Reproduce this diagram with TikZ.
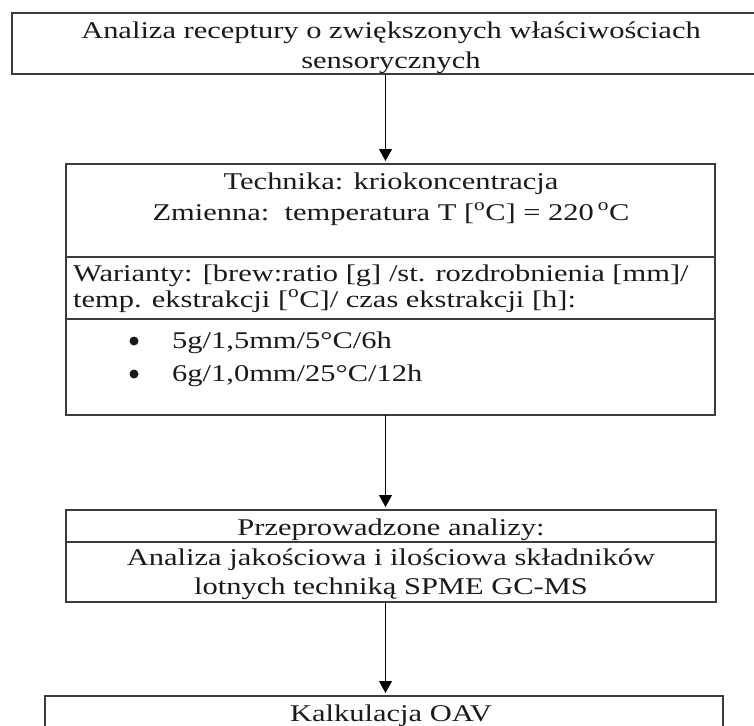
\documentclass[tikz,border=0pt]{standalone}
\usepackage{fontspec}
\setmainfont{Liberation Serif}[FakeStretch=1.27]
\usetikzlibrary{arrows.meta}
\definecolor{ink}{HTML}{1A1A1A}
\definecolor{rule}{HTML}{3C3C3C}
\begin{document}
\begin{tikzpicture}[x=1pt,y=-1pt,
  frame/.style={draw=rule, line width=1.4pt, inner sep=0pt, outer sep=0pt, anchor=north west},
  txt/.style={text=ink, font=\fontsize{24}{28}\selectfont, inner sep=0pt, anchor=base},
  ltxt/.style={txt, anchor=base west},
  dot/.style={circle, fill=ink, inner sep=0pt, minimum size=9pt},
  flow/.style={draw=black, line width=1.1pt, -{Triangle[width=13pt,length=12pt]}, shorten >=3pt}]
\useasboundingbox (0,0) rectangle (754,725);
\clip (0,0) rectangle (754,725);

% frames
\node[frame, minimum width=746pt, minimum height=61pt] (b1) at (12,13) {};
\node[frame, minimum width=649pt, minimum height=93pt] (b2a) at (66,164) {};
\node[frame, minimum width=649pt, minimum height=62pt] (b2b) at (66,257) {};
\node[frame, minimum width=649pt, minimum height=96pt] (b2c) at (66,319) {};
\node[frame, minimum width=650pt, minimum height=32pt] (b3a) at (66,510) {};
\node[frame, minimum width=650pt, minimum height=60pt] (b3b) at (66,542) {};
\node[frame, minimum width=678pt, minimum height=60pt] (b4) at (45,696) {};

% texts
\node[txt] (t1a) at (391,38) {Analiza receptury o zwiększonych właściwościach};
\node[txt] (t1b) at (391,68) {sensorycznych};
\node[txt] (t2a) at (391,189) {Technika: kriokoncentracja};
\node[txt] (t2b) at (391,220) {Zmienna:\ \ temperatura T [\textsuperscript{o}C] = 220\,\textsuperscript{o}C};
\node[ltxt] (t2c) at (73,281) {Warianty: [brew:ratio [g] /st. rozdrobnienia [mm]/};
\node[ltxt] (t2d) at (73,307) {temp. ekstrakcji [\textsuperscript{o}C]/ czas ekstrakcji [h]:};
\node[dot] (d1) at (134,341) {};
\node[dot] (d2) at (134,374) {};
\node[ltxt] (t2e) at (172,348) {5g/1,5mm/5°C/6h};
\node[ltxt] (t2f) at (172,381) {6g/1,0mm/25°C/12h};
\node[txt] (t3a) at (391,535) {Przeprowadzone analizy:};
\node[txt] (t3b) at (391,565) {Analiza jakościowa i ilościowa składników};
\node[txt] (t3c) at (391,594) {lotnych techniką SPME GC-MS};
\node[txt] (t4) at (391,721) {Kalkulacja OAV};

% connectors
\coordinate (ax) at (385.5,0);
\draw[flow] (b1.south -| ax) -- (b2a.north -| ax);
\draw[flow] (b2c.south -| ax) -- (b3a.north -| ax);
\draw[flow] (b3b.south -| ax) -- (b4.north -| ax);
\end{tikzpicture}
\end{document}
